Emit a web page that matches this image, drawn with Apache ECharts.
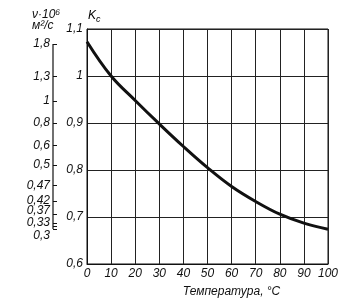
<!DOCTYPE html>
<html>
<head>
<meta charset="utf-8">
<script src="https://cdn.jsdelivr.net/npm/echarts@6/dist/echarts.min.js"></script>
<style>html,body{margin:0;padding:0;background:#fff;}#c{width:348px;height:303px;}</style>
</head>
<body>
<div id="c"></div>
<script>
// Temperature, °C
const temps = [0, 10, 20, 30, 40, 50, 60, 70, 80, 90, 100];
// Coefficient K_c
const kc = [1.073, 1.0, 0.948, 0.898, 0.850, 0.805, 0.765, 0.733, 0.706, 0.687, 0.674];
// Kinematic viscosity scale ν·10^6, m²/s (labels and their positions on the K scale)
const nuLabels = ['1,8', '1,3', '1', '0,8', '0,6', '0,5', '0,47', '0,42', '0,37', '0,33', '0,3'];
const nuTickPos = [1.068, 0.9985, 0.947, 0.900, 0.852, 0.8106, 0.767, 0.734, 0.706, 0.687, 0.6745];
const nuMinorTickPos = [0.681];
const nuLabelPos = [1.068, 0.9985, 0.947, 0.900, 0.852, 0.8106, 0.767, 0.734, 0.7128, 0.689, 0.6596];

const FONT = "'Liberation Sans Narrow', 'Liberation Sans', sans-serif";
const lab = {fontStyle: 'italic', fontFamily: FONT, fontSize: 12, color: '#111'};
const comma = v => String(Math.round(v * 100) / 100).replace('.', ',');

const chart = echarts.init(document.getElementById('c'), null, {renderer: 'canvas'});
const allTicks = nuTickPos.concat(nuMinorTickPos);
chart.setOption({
  animation: false,
  backgroundColor: '#fff',
  grid: [
    {left: 87, top: 29, width: 241, height: 235, show: true, borderColor: '#111', borderWidth: 1},
    {left: 53, top: 29, width: 10, height: 235}
  ],
  xAxis: [
    {type: 'value', gridIndex: 0, min: 0, max: 100, interval: 10,
     axisLine: {show: true, lineStyle: {color: '#111', width: 1}},
     axisTick: {show: false},
     splitLine: {show: true, lineStyle: {color: '#222', width: 1}},
     axisLabel: Object.assign({margin: 4}, lab),
     name: 'Температура, °С', nameLocation: 'middle', nameGap: 22,
     nameTextStyle: Object.assign({}, lab, {fontSize: 12, padding: [0, 0, 0, 48]})},
    {type: 'value', gridIndex: 1, min: 0, max: 1, show: false}
  ],
  yAxis: [
    {type: 'value', gridIndex: 0, min: 0.6, max: 1.1, interval: 0.1,
     axisLine: {show: true, lineStyle: {color: '#111', width: 1}},
     axisTick: {show: false},
     splitLine: {show: true, lineStyle: {color: '#222', width: 1}},
     axisLabel: Object.assign({margin: 4, formatter: v => comma(v)}, lab)},
    {type: 'value', gridIndex: 1, min: 0.6, max: 1.1, position: 'left',
     axisLine: {show: false},
     splitLine: {show: false},
     axisTick: {show: true, inside: true, length: 4, customValues: allTicks, lineStyle: {color: '#111', width: 1}},
     axisLabel: Object.assign({margin: 3, customValues: nuLabelPos, formatter: function (v) {
       let best = 0, d = 1e9;
       nuLabelPos.forEach((p, i) => { if (Math.abs(p - v) < d) { d = Math.abs(p - v); best = i; } });
       return nuLabels[best];
     }}, lab)}
  ],
  graphic: [
    {type: 'text', left: 32, top: 9, style: {text: 'ν·10⁶', font: 'italic 12px ' + FONT, fill: '#111'}},
    {type: 'text', left: 32, top: 20, style: {text: 'м²/с', font: 'italic 12px ' + FONT, fill: '#111'}},
    {type: 'text', left: 88, top: 10, style: {
      text: '{a|K}{b|с}', rich: {
        a: {fontStyle: 'italic', fontSize: 12, fontFamily: FONT, color: '#111'},
        b: {fontStyle: 'italic', fontSize: 9, fontFamily: FONT, color: '#111', padding: [6, 0, 0, 0]}
      }}}
  ],
  series: [
    {type: 'line', xAxisIndex: 0, yAxisIndex: 0, data: temps.map((t, i) => [t, kc[i]]),
     smooth: 0.4, symbol: 'none', lineStyle: {color: '#111', width: 3}},
    {type: 'line', xAxisIndex: 1, yAxisIndex: 1, clip: false, silent: true,
     data: [[0, Math.max.apply(null, allTicks)], [0, Math.min.apply(null, allTicks)]],
     symbol: 'none', lineStyle: {color: '#111', width: 1.2}}
  ]
});
</script>
</body>
</html>
